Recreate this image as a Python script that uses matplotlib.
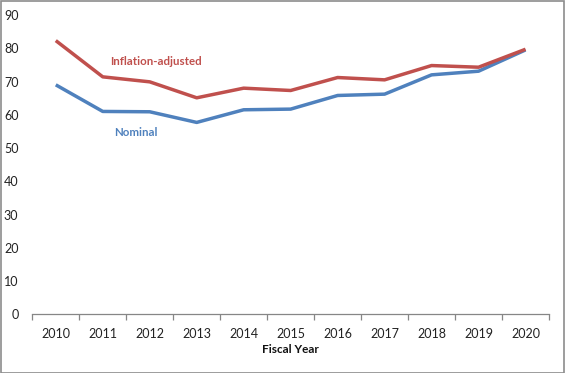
import matplotlib
matplotlib.use("Agg")
import matplotlib.pyplot as plt
from matplotlib.patches import Rectangle

years = ["2010", "2011", "2012", "2013", "2014", "2015", "2016", "2017", "2018", "2019", "2020"]
inflation_adjusted = [82.3, 71.4, 69.9, 65.1, 68.0, 67.3, 71.2, 70.5, 74.8, 74.3, 79.7]
nominal = [69.0, 61.0, 60.9, 57.7, 61.5, 61.7, 65.8, 66.2, 72.0, 73.1, 79.5]
y_ticks = [0, 10, 20, 30, 40, 50, 60, 70, 80, 90]

RED = "#C0504D"
BLUE = "#4F81BD"
plt.rcParams['font.family'] = ['Lato', 'DejaVu Sans']

fig = plt.figure(figsize=(5.65, 3.73), dpi=100)
W, H = 565, 373
x0, x1 = 32.3, 549
y0, y1 = 314.3, 15
ax = fig.add_axes([x0 / W, (H - y0) / H, (x1 - x0) / W, (y0 - y1) / H])

xs = list(range(len(years)))
ax.plot(xs, nominal, color=BLUE, lw=2.5, solid_joinstyle='round', solid_capstyle='butt', zorder=3)
ax.plot(xs, inflation_adjusted, color=RED, lw=2.5, solid_joinstyle='round', solid_capstyle='butt', zorder=4)

ax.set_xlim(-0.5, len(years) - 0.5)
ax.set_ylim(0, 90)
ax.set_yticks(y_ticks)
ax.set_yticklabels([str(v) for v in y_ticks], fontsize=9, color="#222222")
ax.tick_params(axis='y', length=0, pad=10)
ax.set_xticks(xs)
ax.set_xticklabels(years, fontsize=9, color="#222222")
ax.tick_params(axis='x', length=0, pad=10)
# category boundary tick marks
ax.set_xticks([i - 0.5 for i in range(len(years) + 1)], minor=True)
ax.tick_params(axis='x', which='minor', length=4, width=0.9, color="#868686", direction='out')

for s in ['top', 'right', 'left']:
    ax.spines[s].set_visible(False)
ax.spines['bottom'].set_color("#868686")
ax.spines['bottom'].set_linewidth(0.9)

ax.set_xlabel("Fiscal Year", fontsize=8.5, fontweight='bold', color="#111111", labelpad=3)

ax.text(2.14, 76.0, "Inflation-adjusted", color=RED, fontsize=8.3, fontweight='bold', ha='center', va='center')
ax.text(1.71, 54.7, "Nominal", color=BLUE, fontsize=8.3, fontweight='bold', ha='center', va='center')

fig.patches.append(Rectangle((0.5 / W, 0.5 / H), (W - 1.5) / W, (H - 1.5) / H, transform=fig.transFigure,
                             fill=False, edgecolor="#8C8C8C", linewidth=1.2))

fig.savefig("out.png", dpi=100)
